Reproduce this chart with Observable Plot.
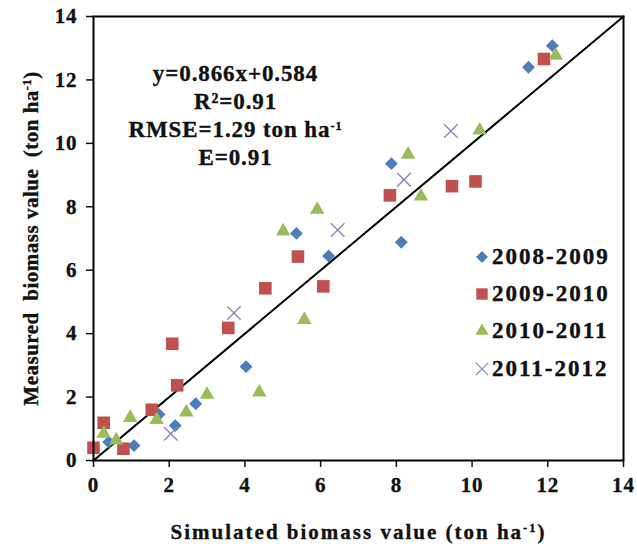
<!DOCTYPE html>
<html>
<head>
<meta charset="utf-8">
<script src="https://cdn.jsdelivr.net/npm/d3@7"></script>
<script src="https://cdn.jsdelivr.net/npm/@observablehq/plot@0.6"></script>
<style>
  body { margin: 0; background: #fff; }
  #wrap { position: relative; width: 637px; height: 552px; }
  #legend { position: absolute; left: 474px; top: 238px; font-family: "Liberation Serif", serif; font-weight: bold; font-size: 23px; letter-spacing: 2px; color: #111; -webkit-text-stroke: 0.4px #111; }
  #legend .row { height: 37.3px; display: flex; align-items: center; }
  #legend svg { width: 16px; height: 16px; margin-right: 2px; }
</style>
</head>
<body>
<div id="wrap"></div>
<script>
// Data
const seriesNames = ["2008-2009", "2009-2010", "2010-2011", "2011-2012"];
const seriesColors = ["#4a7ebb", "#c0504d", "#9bbb59", "#8c86b4"];

const s1X = [12.12, 11.49, 7.87, 8.13, 5.36, 6.21, 4.03, 2.70, 2.16, 1.07, 0.40, 1.73];
const s1Y = [13.08, 12.40, 9.36, 6.88, 7.16, 6.45, 2.96, 1.79, 1.10, 0.47, 0.58, 1.45];

const s2X = [11.90, 10.09, 9.47, 7.83, 5.40, 6.07, 4.54, 3.56, 2.08, 2.21, 1.54, 0.27, 0.79, 0.00];
const s2Y = [12.66, 8.80, 8.65, 8.36, 6.43, 5.49, 5.43, 4.18, 3.68, 2.37, 1.60, 1.19, 0.37, 0.40];

const s3X = [12.21, 10.20, 8.31, 8.65, 5.91, 5.01, 5.57, 4.38, 3.00, 2.45, 1.67, 0.97, 0.27, 0.60];
const s3Y = [12.77, 10.41, 9.65, 8.33, 7.91, 7.23, 4.44, 2.15, 2.08, 1.52, 1.28, 1.35, 0.85, 0.64];

const s4X = [9.44, 8.20, 6.45, 3.71, 2.04];
const s4Y = [10.39, 8.85, 7.27, 4.65, 0.84];

const axisTicks = [0, 2, 4, 6, 8, 10, 12, 14];
const oneToOne = [0, 14];
const statsLines = ["y=0.866x+0.584", "R²=0.91", "RMSE=1.29 ton ha-1", "E=0.91"];
const xTitle = "Simulated biomass value (ton ha-1)";
const yTitle = "Measured  biomass value  (ton ha-1)";

const toRows = (xs, ys) => xs.map((x, i) => ({x, y: ys[i]}));
const d1 = toRows(s1X, s1Y), d2 = toRows(s2X, s2Y), d3r = toRows(s3X, s3Y), d4 = toRows(s4X, s4Y);
const lineData = oneToOne.map(v => ({x: v, y: v}));

const font = "'Liberation Serif', 'Times New Roman', serif";

const chart = Plot.plot({
  width: 637,
  height: 552,
  marginLeft: 93,
  marginRight: 14,
  marginTop: 16,
  marginBottom: 92,
  style: {fontFamily: font, fontWeight: "bold", fontSize: "21px", color: "#111", background: "#fff", overflow: "visible"},
  x: {domain: [0, 14]},
  y: {domain: [0, 14]},
  marks: [
    Plot.axisX({ticks: axisTicks, tickSize: 7, tickPadding: 10, fontSize: 21, label: xTitle, labelAnchor: "center", labelArrow: "none", labelOffset: 78, strokeWidth: 1.5}),
    Plot.axisY({ticks: axisTicks, tickSize: 7, tickPadding: 9, fontSize: 21, label: yTitle, labelAnchor: "center", labelArrow: "none", labelOffset: 70, strokeWidth: 1.5}),
    Plot.line(lineData, {x: "x", y: "y", stroke: "#000", strokeWidth: 2}),
    Plot.dot(d1, {x: "x", y: "y", symbol: "diamond2", r: 5.8, fill: seriesColors[0]}),
    Plot.dot(d2, {x: "x", y: "y", symbol: "square", r: 7.1, fill: seriesColors[1]}),
    Plot.dot(d3r, {x: "x", y: "y", symbol: "triangle", r: 5.4, fill: seriesColors[2]}),
    Plot.dot(d4, {x: "x", y: "y", symbol: "times", r: 6.2, stroke: seriesColors[3], strokeWidth: 1.4}),
    Plot.text([statsLines.join("\n")], {frameAnchor: "top-left", dx: 142, dy: 44, textAnchor: "middle", lineHeight: 1.23, fontSize: 23, fontWeight: "bold", fill: "#111"}),
    Plot.frame({stroke: "#000", strokeWidth: 2})
  ]
});

// superscripts for "ha-1" (baseline-shift does not move following text)
d3.select(chart).selectAll("text, tspan").each(function() {
  const el = this;
  if (el.childElementCount > 0) return;
  const t = el.textContent;
  const i = t.indexOf("ha-1");
  if (i < 0) return;
  const fs = parseFloat(getComputedStyle(el).fontSize) || 20;
  const before = t.slice(0, i + 2), after = t.slice(i + 4);
  el.textContent = "";
  const sel = d3.select(el);
  sel.append("tspan").text(before);
  sel.append("tspan").attr("baseline-shift", `${(0.36 * fs).toFixed(1)}px`).attr("font-size", `${(0.62 * fs).toFixed(1)}px`).text("-1");
  if (after) sel.append("tspan").text(after);
});
d3.select(chart).selectAll("text").attr("letter-spacing", "0.9px").attr("stroke", "#111").attr("stroke-width", 0.35).attr("paint-order", "stroke");
d3.select(chart).selectAll('g[aria-label="x-axis label"] text').attr("letter-spacing", "2px");
d3.select(chart).selectAll('g[aria-label="y-axis label"] text').attr("letter-spacing", "0.5px");

const wrap = document.getElementById("wrap");
wrap.appendChild(chart);

// legend overlay inside the plot area
const symbolsFor = [d3.symbolDiamond2, d3.symbolSquare, d3.symbolTriangle, d3.symbolTimes];
const sizes = [92, 130, 75, 100];
const legend = d3.select(wrap).append("div").attr("id", "legend");
seriesNames.forEach((name, i) => {
  const row = legend.append("div").attr("class", "row");
  const s = row.append("svg").attr("viewBox", "-8 -8 16 16");
  const p = s.append("path").attr("d", d3.symbol(symbolsFor[i], sizes[i])());
  if (i === 3) p.attr("fill", "none").attr("stroke", seriesColors[i]).attr("stroke-width", 1.3);
  else p.attr("fill", seriesColors[i]);
  row.append("span").text(name);
});
</script>
</body>
</html>
